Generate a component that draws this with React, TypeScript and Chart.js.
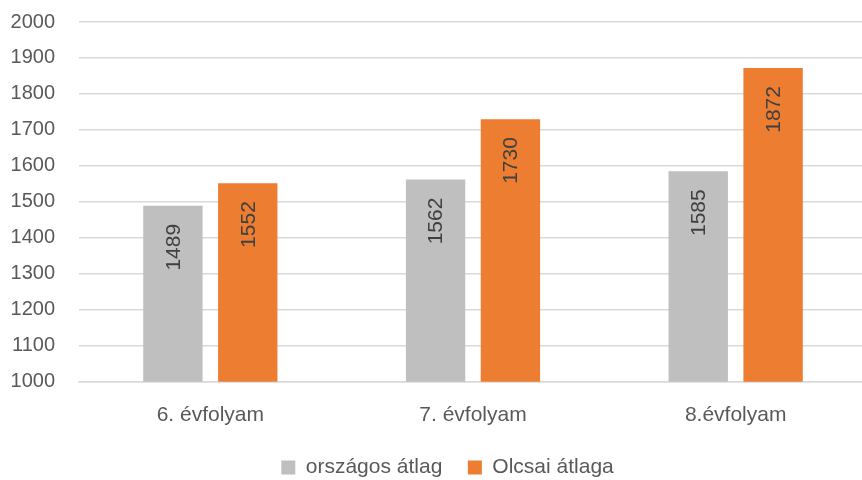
import React, { useEffect, useRef } from "react";
import { Chart, registerables } from "chart.js";

Chart.register(...registerables);

const categories = ["6. évfolyam", "7. évfolyam", "8.évfolyam"];
const orszagos = [1489, 1562, 1585];
const olcsai = [1552, 1730, 1872];
const seriesNames = ["országos átlag", "Olcsai átlaga"];
const yMin = 1000;
const yMax = 2000;
const yStep = 100;

const FONT = "'Liberation Sans', Arial, sans-serif";

const barLabelPlugin = {
  id: "barLabels",
  afterDatasetsDraw(chart: any) {
    const ctx = chart.ctx;
    ctx.save();
    ctx.font = `21px ${FONT}`;
    ctx.fillStyle = "#404040";
    chart.data.datasets.forEach((ds: any, di: number) => {
      const meta = chart.getDatasetMeta(di);
      meta.data.forEach((bar: any, i: number) => {
        const v = ds.data[i];
        ctx.save();
        ctx.translate(bar.x, bar.y + 18);
        ctx.rotate(-Math.PI / 2);
        ctx.textAlign = "right";
        ctx.textBaseline = "middle";
        ctx.fillText(String(v), 0, 1);
        ctx.restore();
      });
    });
    ctx.restore();
  },
};

const legendShiftPlugin = {
  id: "legendShift",
  afterLayout(chart: any) {
    const lg = chart.legend;
    if (lg) {
      lg.left += 14;
      lg.right += 14;
    }
  },
};

export default function App() {
  const ref = useRef<HTMLCanvasElement>(null);
  useEffect(() => {
    document.body.style.margin = "0";
    const chart = new Chart(ref.current!, {
      type: "bar",
      data: {
        labels: categories,
        datasets: [
          {
            label: seriesNames[0],
            data: orszagos,
            backgroundColor: "#BFBFBF",
            categoryPercentage: 0.57,
            barPercentage: 0.793,
          },
          {
            label: seriesNames[1],
            data: olcsai,
            backgroundColor: "#ED7D31",
            categoryPercentage: 0.57,
            barPercentage: 0.793,
          },
        ],
      },
      options: {
        animation: false,
        responsive: false,
        maintainAspectRatio: false,
        layout: { padding: { top: 7, left: 0, right: 0, bottom: 0 } },
        scales: {
          x: {
            grid: { display: false, drawTicks: false },
            border: { display: true, color: "#D9D9D9", width: 1.5 },
            ticks: {
              color: "#595959",
              font: { family: FONT, size: 21 },
              padding: 21,
            },
          },
          y: {
            min: yMin,
            max: yMax,
            afterFit: (s: any) => {
              s.width = 79;
            },
            grid: { color: "#D9D9D9", lineWidth: 1.5, drawTicks: false },
            border: { display: false },
            ticks: {
              stepSize: yStep,
              color: "#595959",
              font: { family: FONT, size: 20 },
              padding: 24,
              callback: (v: any) => String(v),
            },
          },
        },
        plugins: {
          legend: {
            position: "bottom",
            labels: {
              color: "#595959",
              font: { family: FONT, size: 21 },
              boxWidth: 14,
              boxHeight: 14,
              padding: 8,
              generateLabels: (c: any) => {
                const items = Chart.defaults.plugins.legend.labels.generateLabels(c);
                return items.map((it: any, i: number) => ({
                  ...it,
                  text: i === 0 ? it.text + "   " : it.text,
                  lineWidth: 0,
                }));
              },
            },
          },
          tooltip: { enabled: false },
        },
      },
      plugins: [barLabelPlugin, legendShiftPlugin],
    });
    return () => chart.destroy();
  }, []);
  return (
    <div style={{ width: 862, height: 480, overflow: "hidden", position: "relative", background: "#fff" }}>
      <canvas ref={ref} width={867} height={502} style={{ display: "block", marginTop: -14 }} />
    </div>
  );
}
